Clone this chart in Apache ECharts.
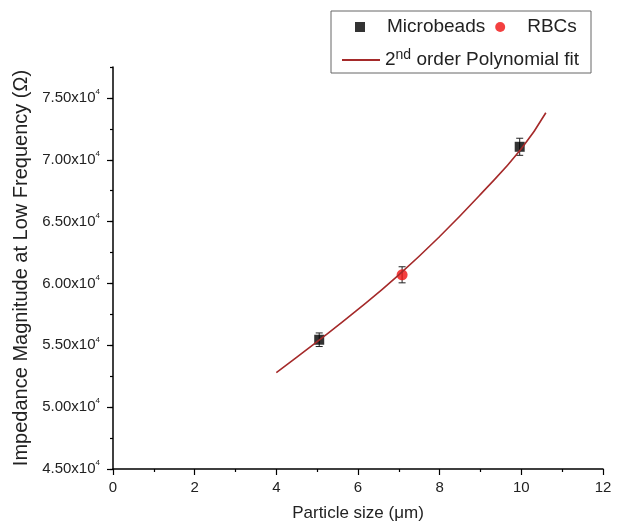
<!DOCTYPE html>
<html><head><meta charset="utf-8">
<script src="https://cdn.jsdelivr.net/npm/echarts@6/dist/echarts.min.js"></script>
<style>html,body{margin:0;padding:0;background:#fff}#c{width:618px;height:527px}</style>
</head><body><div id="c"></div>
<script>
// ---- data ----
const microbeadsX = [5.05, 9.96];
const microbeadsY = [55450, 71050];
const microbeadsErr = [550, 690];
const rbcX = [7.08];
const rbcY = [60700];
const rbcErr = [650];
const fitX = [4.0, 5.0, 6.0, 7.0, 8.0, 9.0, 10.0, 10.6];
const fitY = [52800, 55300, 57900, 60700, 63800, 67200, 70900, 73800];
const yTickValues = [45000, 50000, 55000, 60000, 65000, 70000, 75000];
const xTickLabels = ['0', '2', '4', '6', '8', '10', '12'];

const FONT = '"Liberation Sans", Arial, sans-serif';
const TXT = '#222';

const mb = microbeadsX.map((x, i) => [x, microbeadsY[i]]);
const rb = rbcX.map((x, i) => [x, rbcY[i]]);
const fit = fitX.map((x, i) => [x, fitY[i]]);
const errData = microbeadsX.map((x, i) => [x, microbeadsY[i], microbeadsErr[i]])
  .concat(rbcX.map((x, i) => [x, rbcY[i], rbcErr[i]]));

function yLabel(v) {
  const m = (v / 10000).toFixed(2);
  return '{b|' + m + 'x10}{s|4}';
}

const chart = echarts.init(document.getElementById('c'));
chart.setOption({
  animation: false,
  backgroundColor: '#fff',
  textStyle: { fontFamily: FONT },
  grid: { left: 113, right: 15, top: 67, bottom: 58 },
  xAxis: {
    type: 'value', min: 0, max: 12, interval: 2,
    name: 'Particle size (\u03bcm)', nameLocation: 'middle', nameGap: 36,
    nameTextStyle: { fontSize: 17, color: TXT, fontFamily: FONT },
    axisLine: { show: true, lineStyle: { color: '#000', width: 1.5 } },
    axisTick: { show: true, length: 6, lineStyle: { color: '#000', width: 1.2 } },
    minorTick: { show: true, splitNumber: 2, length: 3, lineStyle: { color: '#000', width: 1.2 } },
    axisLabel: { fontSize: 15, color: TXT, margin: 11, fontFamily: FONT,
      formatter: (v) => xTickLabels[Math.round(v / 2)] },
    splitLine: { show: false }
  },
  yAxis: [{
    type: 'value', min: 45000, max: 77500, interval: 2500,
    name: 'Impedance Magnitude at Low Frequency (\u03a9)', nameLocation: 'middle', nameGap: 79,
    nameTextStyle: { fontSize: 20, color: TXT, fontFamily: FONT },
    axisLine: { show: true, lineStyle: { color: '#000', width: 1.5 } },
    axisTick: { show: true, length: 6, customValues: yTickValues, lineStyle: { color: '#000', width: 1.2 } },
    axisLabel: { customValues: yTickValues, margin: 13, color: TXT, fontFamily: FONT,
      formatter: yLabel,
      rich: {
        b: { fontSize: 15, color: TXT, fontFamily: FONT, lineHeight: 20 },
        s: { fontSize: 8, color: TXT, fontFamily: FONT, verticalAlign: 'top', lineHeight: 20 }
      } },
    splitLine: { show: false }
  }, {
    type: 'value', min: 45000, max: 77500, interval: 2500, position: 'left',
    axisLine: { show: false },
    axisTick: { show: true, length: 3, lineStyle: { color: '#000', width: 1.2 } },
    axisLabel: { show: false },
    splitLine: { show: false }
  }],
  graphic: [{
    type: 'rect', shape: { x: 331, y: 11, width: 260, height: 62 },
    style: { fill: '#fff', stroke: '#666', lineWidth: 1 }, z: 0
  }],
  legend: [{
    data: [{ name: 'Microbeads', icon: 'rect' }, { name: 'RBCs', icon: 'circle' }],
    left: 350, top: 11, itemWidth: 10, itemHeight: 10, itemGap: 10,
    textStyle: { fontSize: 19, color: TXT, fontFamily: FONT, lineHeight: 22, padding: [0, 0, 0, 17] },
    z: 10
  }, {
    data: [{ name: 'fit', icon: 'rect' }],
    left: 337, top: 43, itemWidth: 38, itemHeight: 2, itemGap: 4,
    formatter: () => '{a|2}{s|nd}{a| order Polynomial fit}',
    textStyle: { color: TXT, fontFamily: FONT, rich: {
      a: { fontSize: 19, color: TXT, fontFamily: FONT, lineHeight: 24 },
      s: { fontSize: 14, color: TXT, fontFamily: FONT, verticalAlign: 'top', lineHeight: 24 }
    } },
    z: 10
  }],
  series: [{
    type: 'custom', name: 'err', yAxisIndex: 0, z: 2,
    data: errData,
    renderItem: function (params, api) {
      const x = api.value(0), y = api.value(1), e = api.value(2);
      const top = api.coord([x, y + e]);
      const bot = api.coord([x, y - e]);
      const hw = 3.5;
      const st = { stroke: '#222', lineWidth: 1 };
      return { type: 'group', children: [
        { type: 'line', shape: { x1: top[0], y1: top[1], x2: bot[0], y2: bot[1] }, style: st },
        { type: 'line', shape: { x1: top[0] - hw, y1: top[1], x2: top[0] + hw, y2: top[1] }, style: st },
        { type: 'line', shape: { x1: bot[0] - hw, y1: bot[1], x2: bot[0] + hw, y2: bot[1] }, style: st }
      ] };
    }
  }, {
    type: 'scatter', name: 'Microbeads', data: mb, symbol: 'rect', symbolSize: 10, z: 3,
    itemStyle: { color: '#000' }
  }, {
    type: 'scatter', name: 'RBCs', data: rb, symbol: 'circle', symbolSize: 11, z: 3,
    itemStyle: { color: '#f01010' }
  }, {
    type: 'line', name: 'fit', data: fit, smooth: true, showSymbol: false, symbol: 'none', z: 4,
    lineStyle: { color: '#a52a2a', width: 1.6 }, itemStyle: { color: '#a52a2a' }
  }]
});
</script>
</body></html>
